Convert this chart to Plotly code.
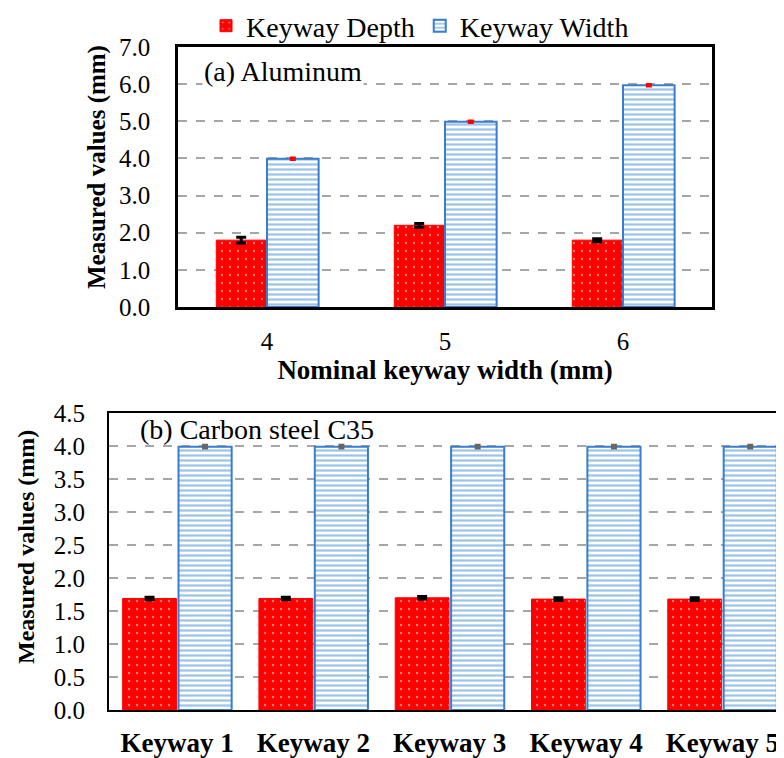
import plotly.graph_objects as go

# ---- data ----
al_cats = ["4", "5", "6"]
al_depth = [1.80, 2.20, 1.80]
al_depth_err = [0.08, 0.05, 0.04]
al_width = [3.99, 4.99, 5.97]
al_width_err = [0.02, 0.02, 0.02]

cs_cats = ["Keyway 1", "Keyway 2", "Keyway 3", "Keyway 4", "Keyway 5"]
cs_depth = [1.69, 1.69, 1.70, 1.68, 1.68]
cs_depth_err = [0.02, 0.02, 0.02, 0.02, 0.02]
cs_width = [3.99, 3.99, 3.99, 3.99, 3.99]
cs_width_err = [0.02, 0.02, 0.02, 0.02, 0.02]

W, H = 784, 758
OFF = 7  # page body margin
FONT = "Times New Roman, Liberation Serif, serif"
RED = "#FF0000"
BLUE_LINE = "#3A7DCC"
BLUE_PAT = "#3C87D6"

fig = go.Figure()

def red_marker():
    return dict(color=RED, line=dict(color=RED, width=1),
                pattern=dict(shape=".", fgcolor="white", bgcolor=RED, size=8, solidity=0.07))

def blue_marker():
    return dict(color="white", line=dict(color=BLUE_LINE, width=2),
                pattern=dict(shape="-", fgcolor=BLUE_PAT, bgcolor="white", size=5, solidity=0.45))

# top chart
fig.add_trace(go.Bar(x=al_cats, y=al_depth, name="Keyway Depth", xaxis="x", yaxis="y",
                     offset=-0.285, width=0.28, marker=red_marker(),
                     error_y=dict(type="data", array=al_depth_err, color="black", thickness=3, width=5),
                     legendgroup="d", showlegend=True))
fig.add_trace(go.Bar(x=al_cats, y=al_width, name="Keyway Width", xaxis="x", yaxis="y",
                     offset=0.0, width=0.29, marker=blue_marker(),
                     error_y=dict(type="data", array=al_width_err, color=RED, thickness=3, width=3),
                     legendgroup="w", showlegend=True))
# bottom chart
fig.add_trace(go.Bar(x=cs_cats, y=cs_depth, name="Keyway Depth", xaxis="x2", yaxis="y2",
                     offset=-0.40, width=0.395, marker=red_marker(),
                     error_y=dict(type="data", array=cs_depth_err, color="black", thickness=3, width=5),
                     legendgroup="d", showlegend=False))
fig.add_trace(go.Bar(x=cs_cats, y=cs_width, name="Keyway Width", xaxis="x2", yaxis="y2",
                     offset=0.01, width=0.39, marker=blue_marker(),
                     error_y=dict(type="data", array=cs_width_err, color="#666666", thickness=3, width=3),
                     legendgroup="w", showlegend=False))

def px_x(p):
    return (p - OFF) / W

def px_y(p):
    return 1 - (p - OFF) / H

grid = dict(showgrid=True, gridcolor="#A6A6A6", griddash="dash", gridwidth=1.5)

fig.update_layout(
    width=W, height=H,
    margin=dict(l=0, r=0, t=0, b=0, autoexpand=False),
    paper_bgcolor="white", plot_bgcolor="white",
    barmode="overlay",
    font=dict(family=FONT, color="black"),
    showlegend=True,
    legend=dict(orientation="h", x=px_x(419), xanchor="center", y=px_y(0), yanchor="top",
                font=dict(size=28, family=FONT), itemwidth=30, traceorder="normal",
                bgcolor="rgba(0,0,0,0)"),
    xaxis=dict(domain=[px_x(177), px_x(711)], anchor="y", type="category", automargin=False,
               range=[-0.5, 2.5], showline=True, mirror=True, linecolor="black", linewidth=2.5,
               showgrid=False, ticks="", tickfont=dict(size=25), ticklabelstandoff=10,
               title=dict(text="<b>Nominal keyway width (mm)</b>", font=dict(size=27), standoff=4)),
    yaxis=dict(domain=[px_y(306), px_y(46)], anchor="x", range=[0, 7], dtick=1, tickformat=".1f",
               automargin=False,
               showline=True, mirror=True, linecolor="black", linewidth=2.5, zeroline=False,
               ticks="", tickfont=dict(size=25), ticklabelstandoff=20, **grid),
    xaxis2=dict(domain=[px_x(108), px_x(784)], anchor="y2", type="category", automargin=False,
                range=[-0.5, 4.46], showline=True, mirror=True, linecolor="black", linewidth=2,
                showgrid=False, ticks="", tickfont=dict(size=27), ticklabelstandoff=8,
                tickvals=cs_cats, ticktext=["<b>" + c + "</b>" for c in cs_cats]),
    yaxis2=dict(domain=[px_y(709), px_y(412)], anchor="x2", range=[0, 4.5], dtick=0.5, tickformat=".1f",
                automargin=False,
                showline=True, mirror=False, linecolor="black", linewidth=2, zeroline=False,
                ticks="", tickfont=dict(size=25), ticklabelstandoff=17, **grid),
)

fig.add_annotation(text="<b>Measured values (mm)</b>", xref="paper", yref="paper",
                   x=px_x(96), y=px_y(166), textangle=-90, showarrow=False,
                   font=dict(size=25, family=FONT), xanchor="center", yanchor="middle")
fig.add_annotation(text="<b>Measured values (mm)</b>", xref="paper", yref="paper",
                   x=px_x(25), y=px_y(546), textangle=-90, showarrow=False,
                   font=dict(size=24, family=FONT), xanchor="center", yanchor="middle")
fig.add_annotation(text="(a) Aluminum", xref="paper", yref="paper",
                   x=px_x(201), y=px_y(71), showarrow=False, bgcolor="white",
                   font=dict(size=28, family=FONT), xanchor="left", yanchor="middle")
fig.add_annotation(text="(b) Carbon steel C35", xref="paper", yref="paper",
                   x=px_x(137), y=px_y(428), showarrow=False,
                   font=dict(size=28, family=FONT), xanchor="left", yanchor="middle")

fig.write_html("out.html")
